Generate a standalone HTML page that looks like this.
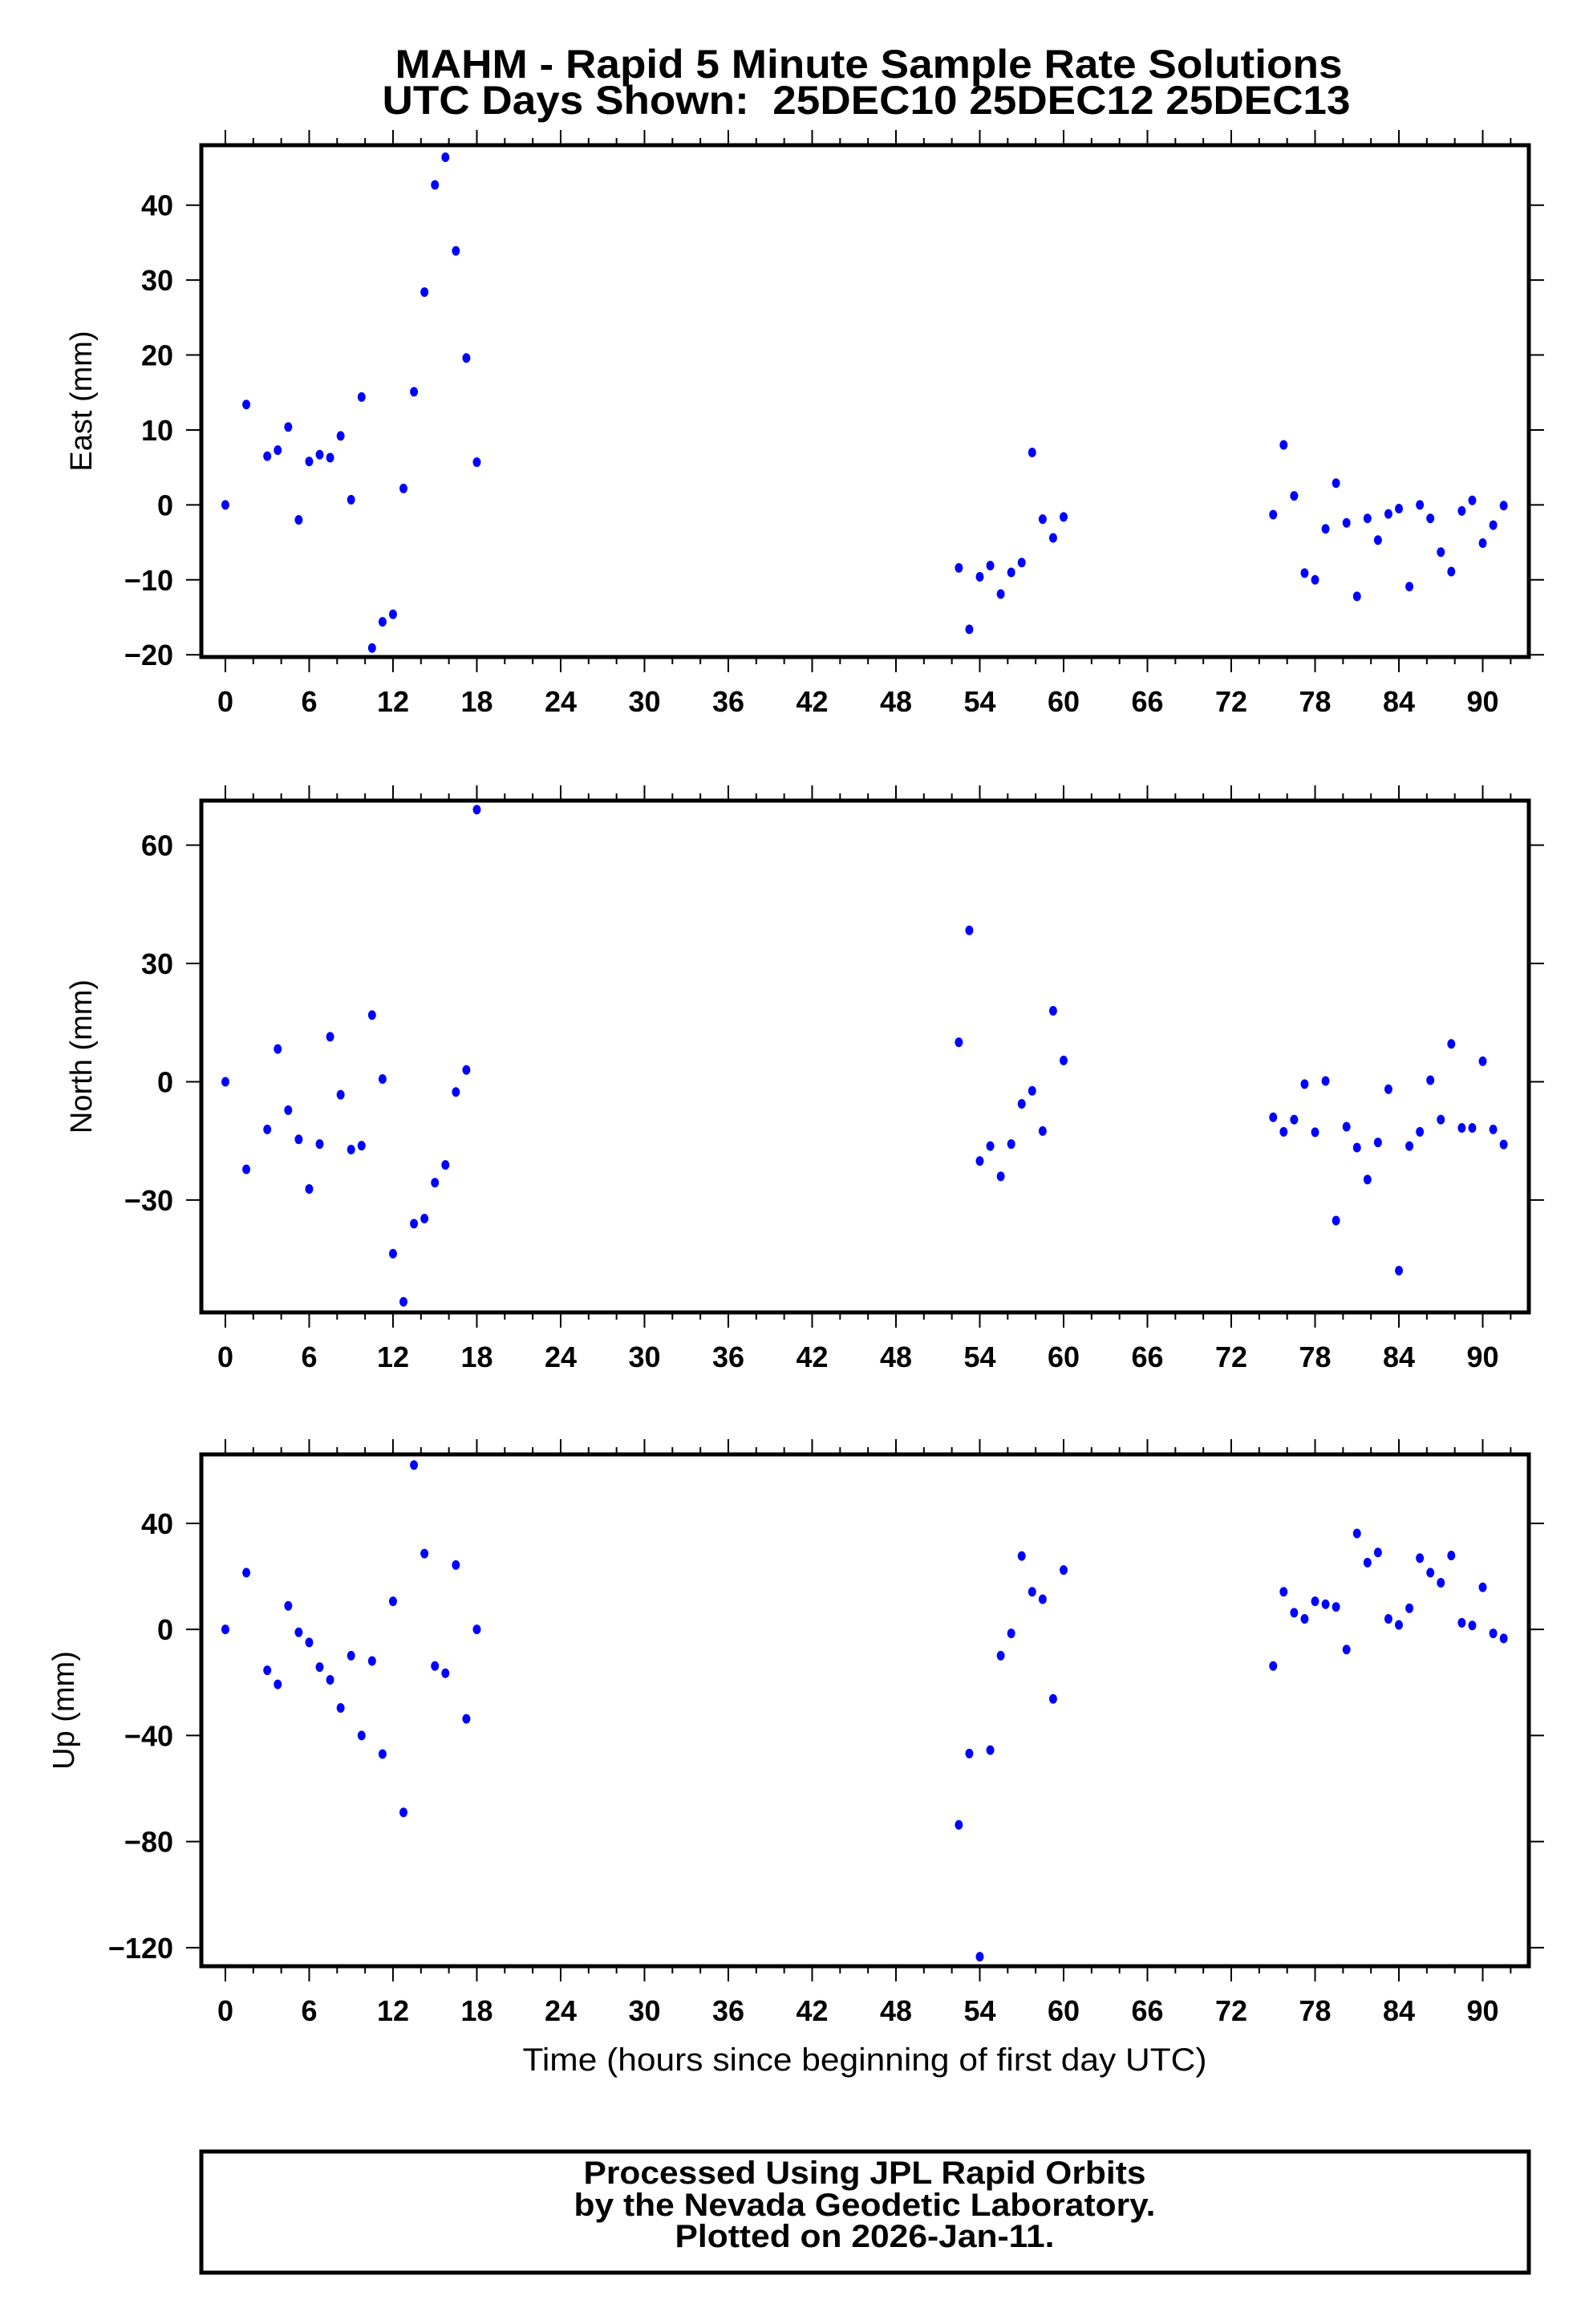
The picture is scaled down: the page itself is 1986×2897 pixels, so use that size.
<!DOCTYPE html>
<html><head><meta charset="utf-8"><style>
html,body{margin:0;padding:0;background:#fff;}
svg{display:block;}
text{font-family:"Liberation Sans",sans-serif;}
</style></head><body>
<svg id="chart" width="1986" height="2897" viewBox="0 0 1986 2897" xmlns="http://www.w3.org/2000/svg">
<rect x="0" y="0" width="1986" height="2897" fill="#fff"/>
<text x="1083" y="97" text-anchor="middle" font-size="50" font-weight="bold" textLength="1181" lengthAdjust="spacingAndGlyphs">MAHM - Rapid 5 Minute Sample Rate Solutions</text>
<text x="1080" y="142" text-anchor="middle" font-size="50" font-weight="bold" textLength="1207" lengthAdjust="spacingAndGlyphs">UTC Days Shown:&#160; 25DEC10 25DEC12 25DEC13</text>
<g id="panels"></g>
<text x="1078" y="2581" text-anchor="middle" font-size="40" textLength="853" lengthAdjust="spacingAndGlyphs">Time (hours since beginning of first day UTC)</text>
<rect x="251" y="2682" width="1655" height="151" fill="none" stroke="#000" stroke-width="5"/>
<text x="1078" y="2722" text-anchor="middle" font-size="40" font-weight="bold" textLength="701" lengthAdjust="spacingAndGlyphs">Processed Using JPL Rapid Orbits</text>
<text x="1078" y="2762" text-anchor="middle" font-size="40" font-weight="bold" textLength="725" lengthAdjust="spacingAndGlyphs">by the Nevada Geodetic Laboratory.</text>
<text x="1078" y="2801" text-anchor="middle" font-size="40" font-weight="bold" textLength="473" lengthAdjust="spacingAndGlyphs">Plotted on 2026-Jan-11.</text>
</svg>
<script>
const hours = [0,1.5,3,3.75,4.5,5.25,6,6.75,7.5,8.25,9,9.75,10.5,11.25,12,12.75,13.5,14.25,15,15.75,16.5,17.25,18,
 52.5,53.25,54,54.75,55.5,56.25,57,57.75,58.5,59.25,60,
 75,75.75,76.5,77.25,78,78.75,79.5,80.25,81,81.75,82.5,83.25,84,84.75,85.5,86.25,87,87.75,88.5,89.25,90,90.75,91.5];
const eastValues = [0,13.4,6.5,7.3,10.4,-2.0,5.8,6.7,6.3,9.2,0.7,14.4,-19.1,-15.6,-14.6,2.2,15.1,28.4,42.7,46.4,33.9,19.6,5.7,
 -8.4,-16.6,-9.6,-8.1,-11.9,-9.0,-7.7,7.0,-1.9,-4.4,-1.6,
 -1.3,8.0,1.2,-9.1,-10.0,-3.2,2.9,-2.4,-12.2,-1.8,-4.7,-1.2,-0.5,-10.9,0,-1.8,-6.3,-8.9,-0.8,0.6,-5.1,-2.7,-0.1];
const northValues = [0,-22.2,-12.1,8.3,-7.2,-14.6,-27.2,-15.8,11.4,-3.3,-17.2,-16.2,16.9,0.7,-43.6,-55.8,-36.0,-34.7,-25.6,-21.1,-2.6,3.0,69.0,
 10,38.4,-20.1,-16.3,-24,-15.8,-5.6,-2.3,-12.5,18.0,5.4,
 -9.0,-12.7,-9.6,-0.6,-12.8,0.2,-35.2,-11.4,-16.7,-24.8,-15.4,-1.9,-47.9,-16.3,-12.7,0.4,-9.6,9.6,-11.7,-11.7,5.2,-12.1,-15.9];
const upValues = [0,21.4,-15.4,-20.7,8.9,-1.1,-4.9,-14.2,-19,-29.6,-9.9,-40,-11.9,-47,10.6,-69,62,28.6,-13.8,-16.5,24.3,-33.7,0,
 -73.7,-46.8,-123.4,-45.5,-9.9,-1.5,27.7,14.2,11.4,-26.2,22.4,
 -13.8,14.2,6.3,4.0,10.6,9.5,8.5,-7.6,36.2,25.2,29,4,1.7,8,26.9,21.4,17.6,27.9,2.5,1.5,15.9,-1.5,-3.4];
const xTicks = [0,6,12,18,24,30,36,42,48,54,60,66,72,78,84,90];
const eastTicks = [-20,-10,0,10,20,30,40];
const northTicks = [-30,0,30,60];
const upTicks = [-120,-80,-40,0,40];

const NS="http://www.w3.org/2000/svg";
const root=document.getElementById('panels');
const X0=251,X1=1906,HMIN=-1.72,HMAX=93.3;
function xs(h){return X0+(h-HMIN)/(HMAX-HMIN)*(X1-X0);}
function mk(tag,attrs,parent){const e=document.createElementNS(NS,tag);for(const k in attrs)e.setAttribute(k,attrs[k]);(parent||root).appendChild(e);return e;}

const panels=[
 {name:'east',label:'East (mm)',lx:101,top:181,bot:819,vmin:-20.3,vmax:48,vals:eastValues,ticks:eastTicks},
 {name:'north',label:'North (mm)',lx:101,top:998,bot:1636,vmin:-58.5,vmax:71.3,vals:northValues,ticks:northTicks},
 {name:'up',label:'Up (mm)',lx:79,top:1813,bot:2451,vmin:-127,vmax:66,vals:upValues,ticks:upTicks}
];
panels.forEach(p=>{
 const g=mk('g',{});
 
 
 const ys=v=>p.bot-(v-p.vmin)/(p.vmax-p.vmin)*(p.bot-p.top);
 for(let h=0;h<=92;h+=2){
  const major=h%6===0, x=xs(h), L=major?19:9;
  mk('line',{x1:x,x2:x,y1:p.top,y2:p.top-L,stroke:'#000','stroke-width':2},g);
  mk('line',{x1:x,x2:x,y1:p.bot,y2:p.bot+L,stroke:'#000','stroke-width':2},g);
 }
 xTicks.forEach(t=>{
  const tx=mk('text',{x:xs(t),y:p.bot+68,'text-anchor':'middle','font-size':36,'font-weight':'bold'},g);
  
  
  tx.textContent=t;
 });
 p.ticks.forEach(t=>{
  const y=ys(t);
  mk('line',{x1:X0-19,x2:X0,y1:y,y2:y,stroke:'#000','stroke-width':2},g);
  mk('line',{x1:X1,x2:X1+19,y1:y,y2:y,stroke:'#000','stroke-width':2},g);
  const tx=mk('text',{x:216,y:y+13,'text-anchor':'end','font-size':36,'font-weight':'bold'},g);
  
  
  tx.textContent=t<0?'\u2212'+(-t):String(t);
 });
 const fr=mk('rect',{x:X0,y:p.top,width:X1-X0,height:p.bot-p.top,fill:'none',stroke:'#000','stroke-width':5},g);
 
 
 const cy=(p.top+p.bot)/2;
 const lab=mk('text',{x:p.lx,y:cy,'text-anchor':'middle','font-size':38,transform:`rotate(-90 ${p.lx} ${cy})`,dy:13},g);
 
 
 lab.textContent=p.label;
 hours.forEach((h,i)=>{
  const c=mk('ellipse',{cx:xs(h),cy:ys(p.vals[i]),rx:5,ry:6,fill:'#0000ff'},g);
  
  
 });
});
</script>
</body></html>
